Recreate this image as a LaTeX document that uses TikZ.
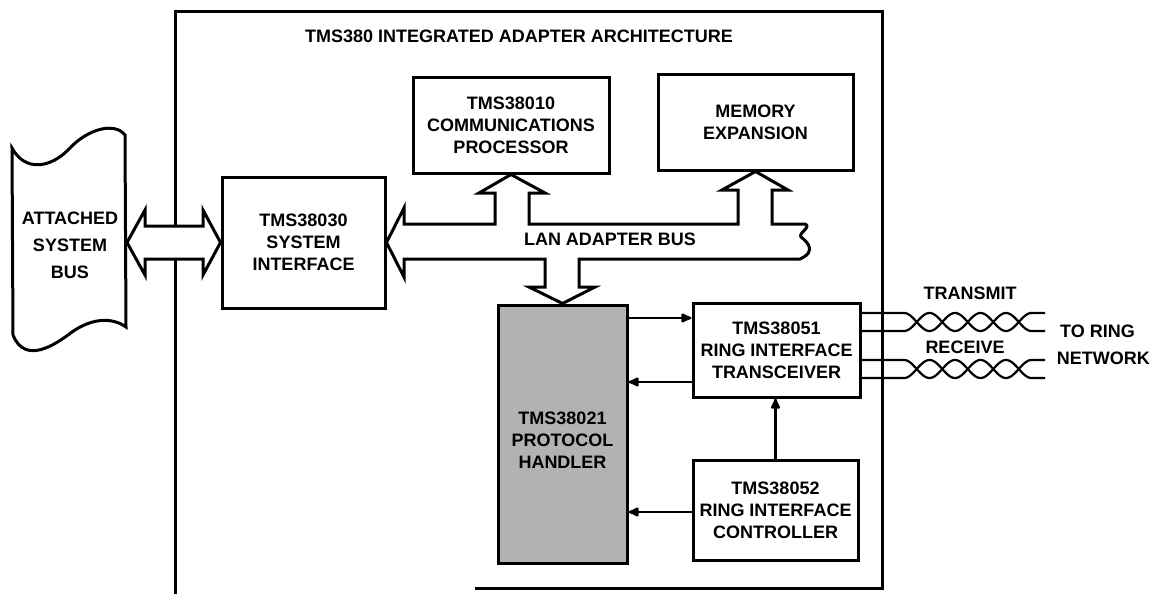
\documentclass[tikz,border=0pt]{standalone}
\usepackage{fontspec}
\setmainfont{Liberation Sans}
\usetikzlibrary{arrows.meta,calc}
\newcommand\labfont{\fontsize{18}{22}\selectfont\bfseries}
\begin{document}
\begin{tikzpicture}[x=1pt,y=-1pt,
  box/.style={draw, line width=3pt, align=center, inner sep=0pt, font=\labfont},
  txt/.style={align=center, inner sep=0pt, font=\labfont},
  fat/.style={draw, fill=white, line width=3pt, line join=miter},
  sig/.style={line width=2.2pt, -{Latex[length=13pt,width=11pt,round]}},
  wire/.style={line width=2.2pt}]
\useasboundingbox (0,0) rectangle (1153,594);
% outer frame
\draw[line width=3pt] (175,594) -- (175,12) -- (882,12) -- (882,588) -- (475,588);
\node[txt] (title) at (519,36) {TMS380 INTEGRATED ADAPTER ARCHITECTURE};
% attached system bus (wavy sheet)
\draw[line width=3pt, fill=white] (12,148) .. controls (25,172) and (50,168) .. (68,150)
  .. controls (88,128) and (115,122) .. (125,135) -- (126,327)
  .. controls (112,317) and (92,318) .. (72,332)
  .. controls (55,345) and (25,365) .. (13,335) -- cycle;
\node[txt, font=\fontsize{18}{27}\selectfont\bfseries] (asb) at (70,245) {ATTACHED\\SYSTEM\\BUS};
\coordinate (asbr) at (127,242.5);
% boxes
\node[box, minimum width=163pt, minimum height=131pt] (si) at (303.5,242.5) {TMS38030\\SYSTEM\\INTERFACE};
\node[box, minimum width=196pt, minimum height=96pt] (cp) at (511,125) {TMS38010\\COMMUNICATIONS\\PROCESSOR};
\node[box, minimum width=195pt, minimum height=96pt] (mem) at (755.5,122) {MEMORY\\EXPANSION};
\node[box, minimum width=129pt, minimum height=258pt, fill=black!30] (ph) at (562.5,434) {};
\node[txt] (phtext) at (562.5,440) {TMS38021\\PROTOCOL\\HANDLER};
\node[box, minimum width=167pt, minimum height=94pt] (tr) at (776.5,350) {TMS38051\\RING INTERFACE\\TRANSCEIVER};
\node[box, minimum width=165pt, minimum height=100pt] (ctl) at (775.5,510) {TMS38052\\RING INTERFACE\\CONTROLLER};
% attached bus double arrow
\draw[fat] (asbr) -- (145,210) -- (145,226) -- (203,226) -- (203,210) -- (si.west)
  -- (203,275) -- (203,259) -- (145,259) -- (145,275) -- cycle;
% LAN adapter bus
\draw[fat] (si.east) -- (404,208) -- (404,224) -- (495,224) -- (495,193) -- (479,193) -- (cp.south)
  -- (545,193) -- (529,193) -- (529,224) -- (738,224) -- (738,190) -- (722,190) -- (mem.south)
  -- (788,190) -- (772,190) -- (772,224) -- (805,224)
  .. controls (812,227) and (798,233) .. (801,237)
  .. controls (806,241) and (818,251) .. (800,259)
  -- (579,259) -- (579,287) -- (595,287) -- (ph.north) -- (529,287) -- (545,287) -- (545,259)
  -- (404,259) -- (404,277) -- cycle;
\node[txt] (lan) at (610,239) {LAN ADAPTER BUS};
% signal arrows
\draw[sig] (ph.east |- 0,318) -- (tr.west |- 0,318);
\draw[sig] (tr.west |- 0,382) -- (ph.east |- 0,382);
\draw[sig] (ctl.north) -- (ctl.north |- tr.south);
\draw[sig] (ctl.west |- 0,512) -- (ph.east |- 0,512);
% twisted pairs
\draw[wire] (tr.east |- 0,313) -- (904,313) -- plot[domain=0:127.5, samples=120] ({904+\x},{322-9*cos(7.0588*\x)}) -- (1045,331);
\draw[wire] (tr.east |- 0,331) -- (904,331) -- plot[domain=0:127.5, samples=120] ({904+\x},{322+9*cos(7.0588*\x)}) -- (1045,313);
\draw[wire] (tr.east |- 0,360) -- (904,360) -- plot[domain=0:127.5, samples=120] ({904+\x},{369-9*cos(7.0588*\x)}) -- (1045,378);
\draw[wire] (tr.east |- 0,378) -- (904,378) -- plot[domain=0:127.5, samples=120] ({904+\x},{369+9*cos(7.0588*\x)}) -- (1045,360);
\node[txt] (tx) at (970,293) {TRANSMIT};
\node[txt] (rx) at (965,347) {RECEIVE};
\node[txt, anchor=west] (toring) at (1060,331) {TO RING};
\node[txt, anchor=east] (net) at (1150,358) {NETWORK};
\end{tikzpicture}
\end{document}
